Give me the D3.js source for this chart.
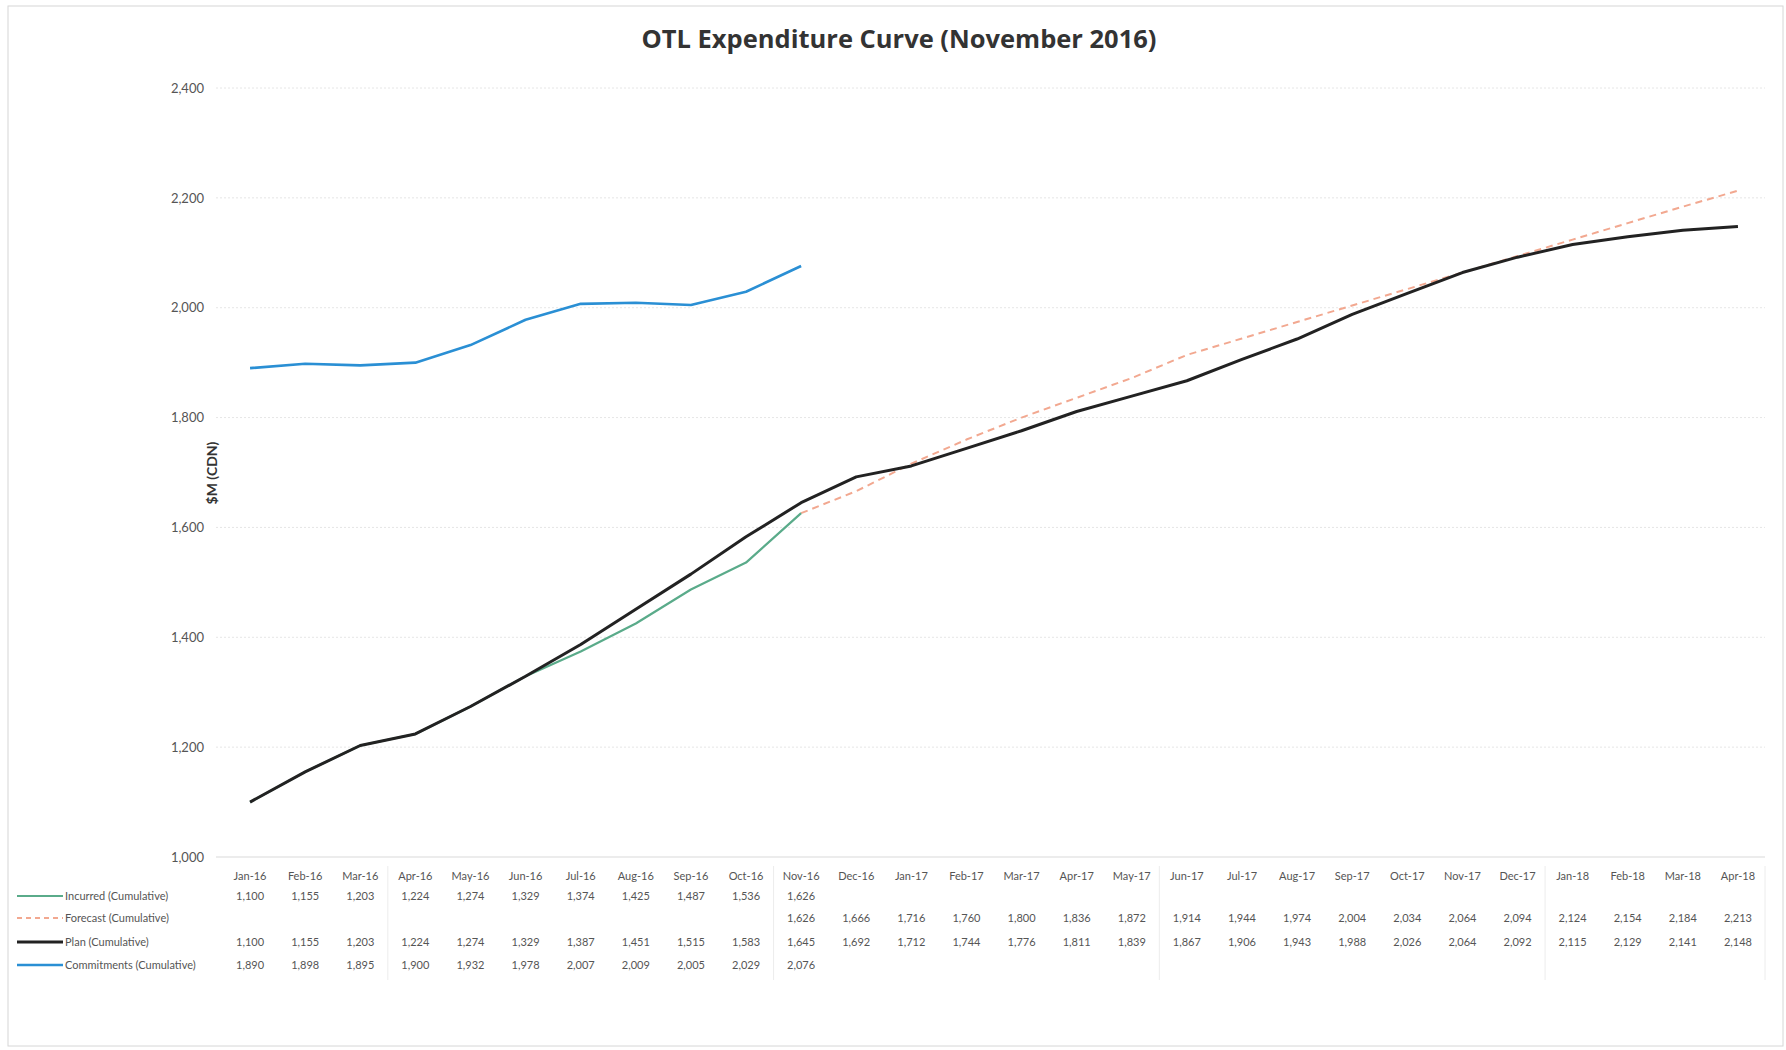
<!DOCTYPE html>
<html>
<head>
<meta charset="utf-8">
<script src="https://cdn.jsdelivr.net/npm/d3@7"></script>
<style>
  body { margin: 0; background: #fff; }
  text { font-family: Lato, "Open Sans", sans-serif; }
</style>
</head>
<body>
<script>
// months along the x axis / table header
const months = ["Jan-16","Feb-16","Mar-16","Apr-16","May-16","Jun-16","Jul-16","Aug-16","Sep-16","Oct-16","Nov-16","Dec-16",
  "Jan-17","Feb-17","Mar-17","Apr-17","May-17","Jun-17","Jul-17","Aug-17","Sep-17","Oct-17","Nov-17","Dec-17",
  "Jan-18","Feb-18","Mar-18","Apr-18"];

// series, $M (CDN), cumulative
const incurred = [1100,1155,1203,1224,1274,1329,1374,1425,1487,1536,1626];
const forecast = [null,null,null,null,null,null,null,null,null,null,
  1626,1666,1716,1760,1800,1836,1872,1914,1944,1974,2004,2034,2064,2094,2124,2154,2184,2213];
const plan = [1100,1155,1203,1224,1274,1329,1387,1451,1515,1583,1645,1692,1712,1744,1776,1811,1839,1867,1906,1943,1988,2026,2064,2092,2115,2129,2141,2148];
const commitments = [1890,1898,1895,1900,1932,1978,2007,2009,2005,2029,2076];

const yTicks = [1000,1200,1400,1600,1800,2000,2200,2400];

const width = 1786, height = 1050;

const svg = d3.select("body").append("svg")
  .attr("width", width)
  .attr("height", height);

// outer frame
svg.append("rect")
  .attr("x", 8).attr("y", 6)
  .attr("width", 1775).attr("height", 1040)
  .attr("fill", "none")
  .attr("stroke", "#d6d6d6");

// title
svg.append("text")
  .attr("x", 899).attr("y", 48)
  .attr("text-anchor", "middle")
  .style("font-family", "'Open Sans', sans-serif")
  .style("font-weight", 700)
  .style("font-size", "25.5px")
  .style("fill", "#333")
  .text("OTL Expenditure Curve (November 2016)");

const x = d3.scaleBand().domain(months).range([222.5, 1765.5]);
const cx = m => x(m) + x.bandwidth() / 2;
const y = d3.scaleLinear().domain([1000, 2400]).range([857, 88]);

// gridlines
svg.append("g")
  .selectAll("line")
  .data(yTicks)
  .join("line")
  .attr("x1", 216).attr("x2", 1765)
  .attr("y1", d => y(d)).attr("y2", d => y(d))
  .attr("stroke", d => d === 1000 ? "#d9d9d9" : "#e6e6e6")
  .attr("stroke-dasharray", d => d === 1000 ? null : "2,2");

// y axis labels
const yAxis = svg.append("g")
  .attr("transform", "translate(204,0)")
  .call(d3.axisLeft(y).tickValues(yTicks).tickFormat(d3.format(",")).tickSize(0).tickPadding(0));
yAxis.select(".domain").remove();
yAxis.selectAll("text")
  .style("font-family", "Lato, sans-serif")
  .style("font-size", "13px")
  .style("fill", "#555");

// y axis title
svg.append("text")
  .attr("transform", "translate(217,473) rotate(-90)")
  .attr("text-anchor", "middle")
  .style("font-weight", 700)
  .style("font-size", "14px")
  .style("fill", "#333")
  .text("$M (CDN)");

// lines
const series = [
  { name: "Forecast (Cumulative)", values: forecast, color: "#f2a890", w: 2, dash: "7,5" },
  { name: "Incurred (Cumulative)", values: incurred, color: "#5aab8a", w: 2.2, dash: null },
  { name: "Plan (Cumulative)", values: plan, color: "#222", w: 3, dash: null },
  { name: "Commitments (Cumulative)", values: commitments, color: "#2a8fd4", w: 2.6, dash: null }
];

const line = d3.line()
  .defined(d => d.v != null)
  .x(d => cx(d.m))
  .y(d => y(d.v));

series.forEach(s => {
  svg.append("path")
    .datum(s.values.map((v, i) => ({ m: months[i], v: v })))
    .attr("fill", "none")
    .attr("stroke", s.color)
    .attr("stroke-width", s.w)
    .attr("stroke-dasharray", s.dash)
    .attr("stroke-linejoin", "round")
    .attr("d", line);
});

// data table
const table = svg.append("g").style("font-size", "11px").style("fill", "#555");

// faint column separators
[3, 10, 17, 24].forEach(i => {
  table.append("line")
    .attr("x1", x(months[i])).attr("x2", x(months[i]))
    .attr("y1", 866).attr("y2", 980)
    .attr("stroke", "#ececec");
});
table.append("line")
  .attr("x1", 1765).attr("x2", 1765)
  .attr("y1", 866).attr("y2", 980)
  .attr("stroke", "#ececec");

table.selectAll(".hdr")
  .data(months)
  .join("text")
  .attr("class", "hdr")
  .attr("x", d => cx(d))
  .attr("y", 880)
  .attr("text-anchor", "middle")
  .text(d => d);

// table rows in legend order
const rows = [series[1], series[0], series[2], series[3]];
const rowY = [896, 918, 942, 965];
const fmt = d3.format(",");

rows.forEach((s, r) => {
  const ry = rowY[r];
  table.append("line")
    .attr("x1", 17).attr("x2", 63)
    .attr("y1", ry).attr("y2", ry)
    .attr("stroke", s.color)
    .attr("stroke-width", s.w)
    .attr("stroke-dasharray", s.dash ? "5,4" : null);
  table.append("text")
    .attr("x", 65).attr("y", ry + 4)
    .text(s.name);
  table.selectAll(null)
    .data(s.values.map((v, i) => ({ m: months[i], v: v })).filter(d => d.v != null))
    .join("text")
    .attr("x", d => cx(d.m))
    .attr("y", ry + 4)
    .attr("text-anchor", "middle")
    .text(d => fmt(d.v));
});
</script>
</body>
</html>
